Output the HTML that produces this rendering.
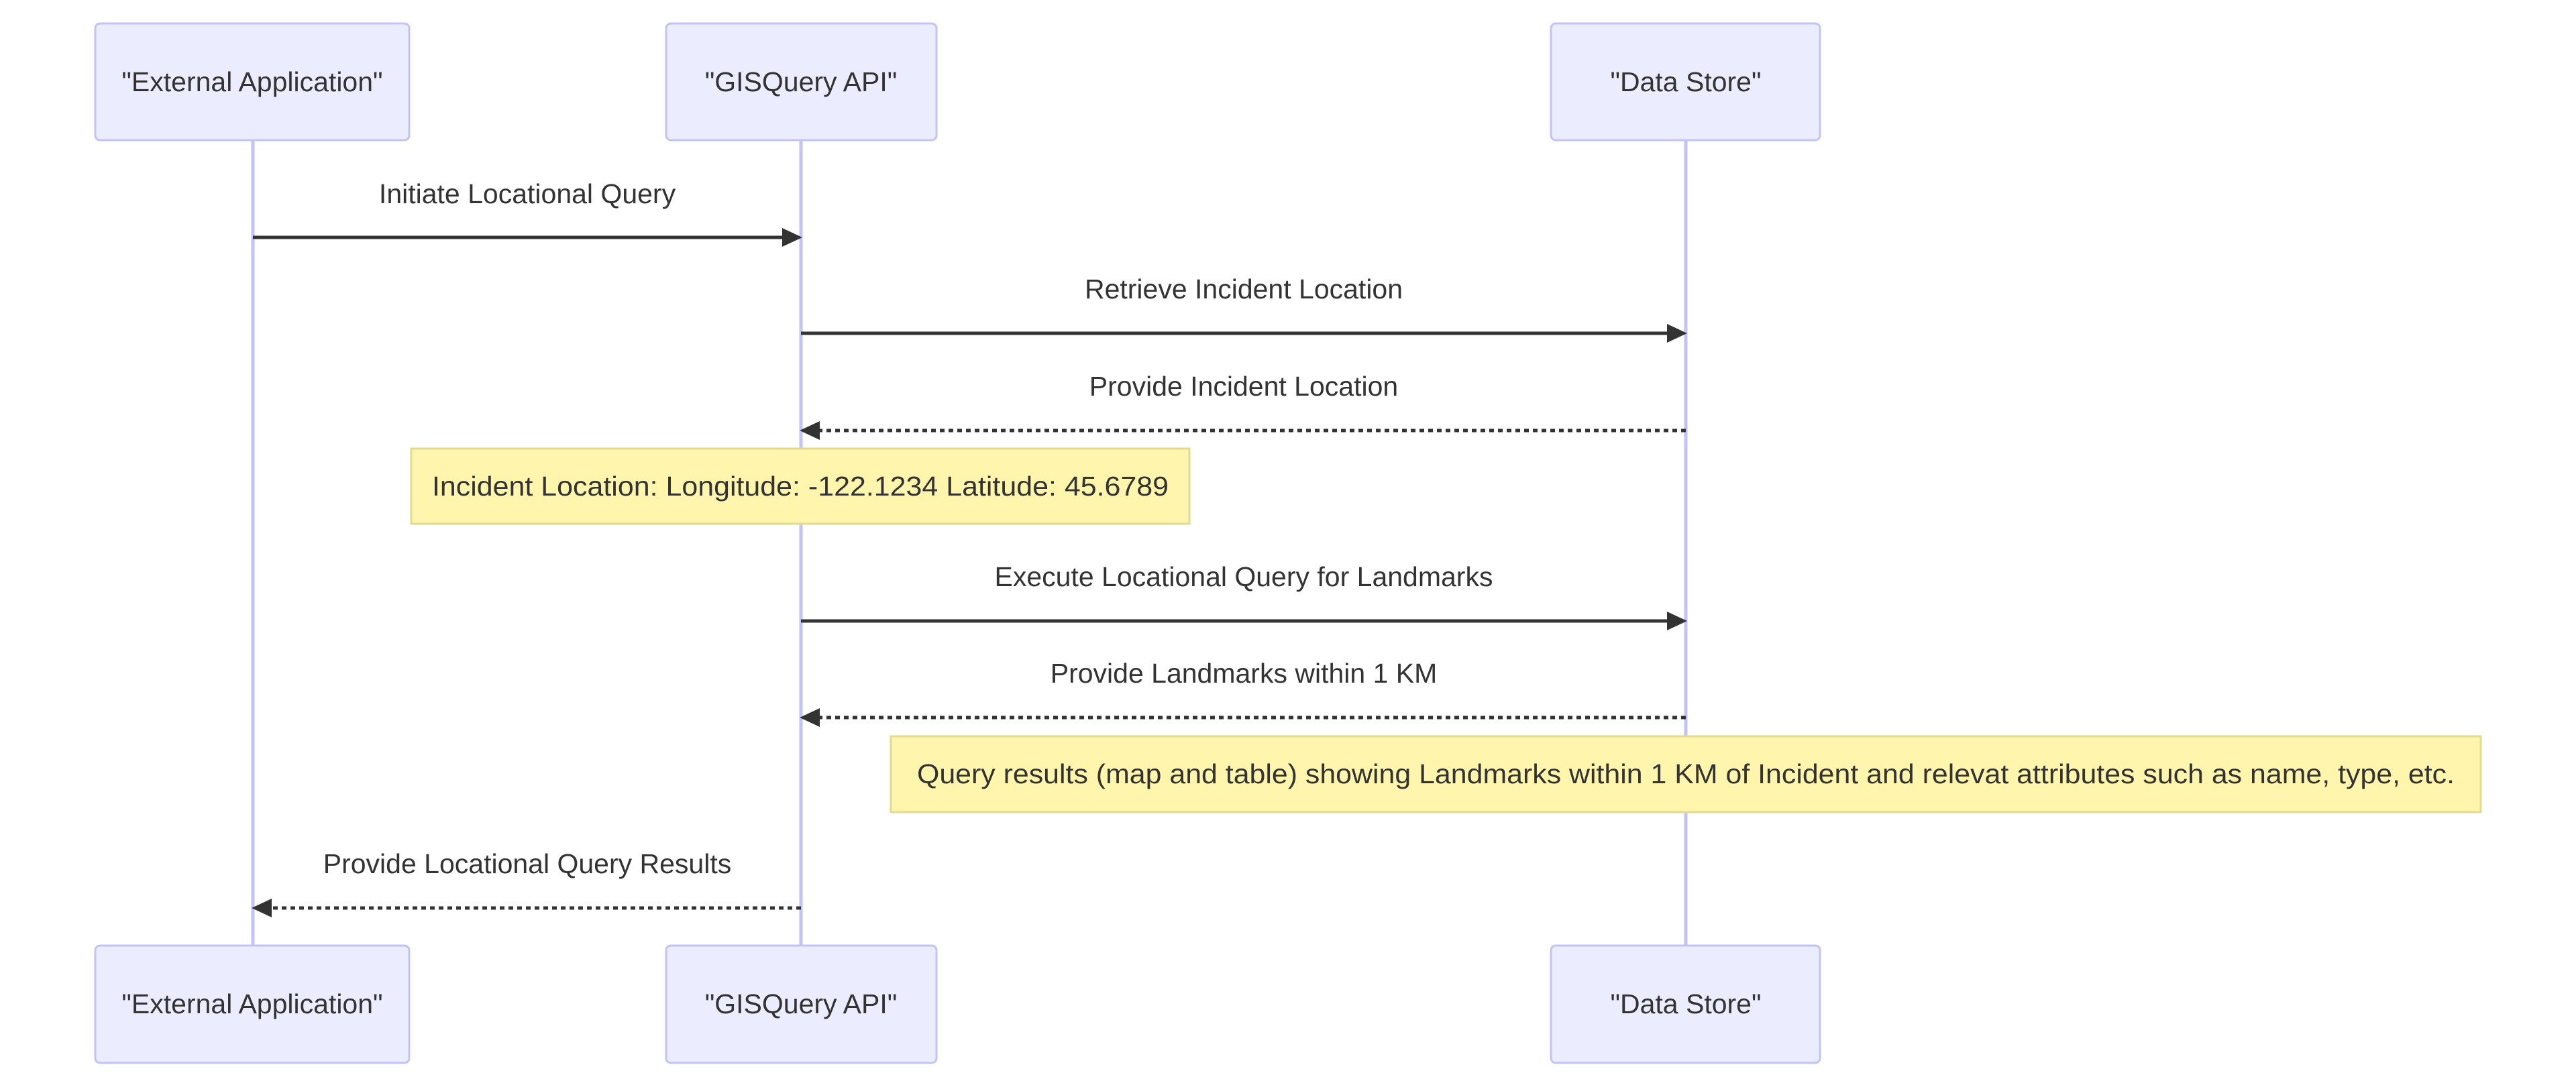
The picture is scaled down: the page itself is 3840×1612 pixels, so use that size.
<!DOCTYPE html>
<html><head><meta charset="utf-8"><style>html,body{margin:0;padding:0;background:#fff;}svg{display:block}</style></head>
<body>
<svg xmlns="http://www.w3.org/2000/svg" width="3840" height="1612" viewBox="0 0 3840 1612">
<g stroke="#c3c3f7" stroke-width="5">
<line x1="377" y1="209" x2="377" y2="1410"/>
<line x1="1194" y1="209" x2="1194" y2="1410"/>
<line x1="2513" y1="209" x2="2513" y2="1410"/>
</g>
<g fill="#ececff" stroke="#c3c3f7" stroke-width="3">
<rect x="142" y="35" width="468" height="174" rx="7"/>
<rect x="993" y="35" width="403" height="174" rx="7"/>
<rect x="2312" y="35" width="401" height="174" rx="7"/>
<rect x="142" y="1410" width="468" height="175" rx="7"/>
<rect x="993" y="1410" width="403" height="175" rx="7"/>
<rect x="2312" y="1410" width="401" height="175" rx="7"/>
</g>
<g font-family="'Liberation Sans', sans-serif" font-size="41" fill="#333" text-anchor="middle" dominant-baseline="central">
<text x="376" y="122">"External Application"</text>
<text x="1194" y="122">"GISQuery API"</text>
<text x="2513" y="122">"Data Store"</text>
<text x="376" y="1497">"External Application"</text>
<text x="1194" y="1497">"GISQuery API"</text>
<text x="2513" y="1497">"Data Store"</text>
</g>
<rect x="613" y="669" width="1160" height="112" fill="#fff5ad" stroke="#e2da8f" stroke-width="3"/>
<rect x="1328" y="1098" width="2370" height="113" fill="#fff5ad" stroke="#e2da8f" stroke-width="3"/>
<g stroke="#333" stroke-width="5" fill="none">
<line x1="377" y1="354" x2="1168" y2="354"/>
<line x1="1194" y1="497" x2="2487" y2="497"/>
<line x1="2513" y1="642" x2="1220" y2="642" stroke-dasharray="7,6"/>
<line x1="1194" y1="926" x2="2487" y2="926"/>
<line x1="2513" y1="1070" x2="1220" y2="1070" stroke-dasharray="7,6"/>
<line x1="1194" y1="1354" x2="403" y2="1354" stroke-dasharray="7,6"/>
</g>
<g fill="#333">
<polygon points="1166,340 1196,354 1166,368"/>
<polygon points="2485,483 2515,497 2485,511"/>
<polygon points="1222,628 1192,642 1222,656"/>
<polygon points="2485,912 2515,926 2485,940"/>
<polygon points="1222,1056 1192,1070 1222,1084"/>
<polygon points="405,1340 375,1354 405,1368"/>
</g>
<g font-family="'Liberation Sans', sans-serif" font-size="41" fill="#333" text-anchor="middle" dominant-baseline="central">
<text x="786" y="289">Initiate Locational Query</text>
<text x="1854" y="431">Retrieve Incident Location</text>
<text x="1854" y="576">Provide Incident Location</text>
<text x="1193" y="725" textLength="1098" lengthAdjust="spacingAndGlyphs">Incident Location: Longitude: -122.1234 Latitude: 45.6789</text>
<text x="1854" y="860">Execute Locational Query for Landmarks</text>
<text x="1854" y="1004">Provide Landmarks within 1 KM</text>
<text x="2513" y="1154" textLength="2292" lengthAdjust="spacingAndGlyphs">Query results (map and table) showing Landmarks within 1 KM of Incident and relevat attributes such as name, type, etc.</text>
<text x="786" y="1288">Provide Locational Query Results</text>
</g>
</svg>
</body></html>
